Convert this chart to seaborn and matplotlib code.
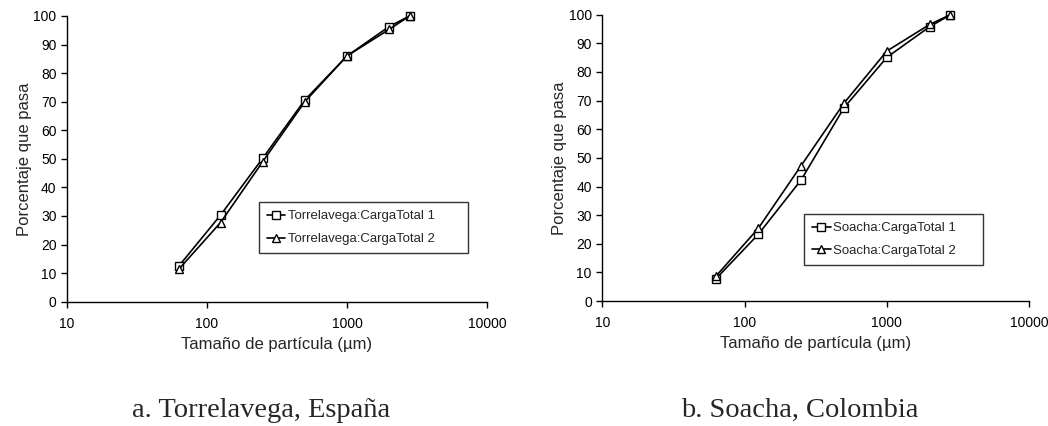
import matplotlib
matplotlib.use("Agg")
from matplotlib import pyplot as plt
from matplotlib.lines import Line2D
import seaborn as sns
import pandas as pd

# Particle size (um)
sizes = [63, 125, 250, 500, 1000, 2000, 2800]

# Torrelavega, Espana
torre_total1 = [12.5, 30.3, 50.2, 70.6, 86.0, 96.3, 100.0]
torre_total2 = [11.4, 27.7, 49.0, 70.0, 86.0, 95.3, 100.0]

# Soacha, Colombia
soacha_total1 = [7.8, 23.3, 42.3, 67.5, 85.1, 95.8, 100.0]
soacha_total2 = [8.7, 25.4, 47.3, 69.1, 87.3, 96.6, 100.0]

panels = [
    ("Torrelavega", torre_total1, torre_total2, "a. Torrelavega, España",
     [0.0639, 0.2918, 0.4008, 0.6707], (0.457, 0.17, 0.498, 0.18)),
    ("Soacha", soacha_total1, soacha_total2, "b. Soacha, Colombia",
     [0.5747, 0.2934, 0.4072, 0.6720], (0.473, 0.126, 0.42, 0.18)),
]

sns.set_style("ticks")
plt.rcParams['font.family'] = ['Liberation Sans', 'DejaVu Sans']

fig = plt.figure(figsize=(10.48, 4.26), dpi=100)

for site, s1, s2, caption, pos, leg_box in panels:
    lab1 = f"{site}:CargaTotal 1"
    lab2 = f"{site}:CargaTotal 2"
    df = pd.DataFrame({
        'size': sizes + sizes,
        'pasa': s1 + s2,
        'serie': [lab1] * len(sizes) + [lab2] * len(sizes),
    })

    ax = fig.add_axes(pos)
    sns.lineplot(data=df, x='size', y='pasa', hue='serie', style='serie',
                 markers=['s', '^'], dashes=False, palette=['black', 'black'],
                 errorbar=None, linewidth=1.2, markersize=5.5,
                 markerfacecolor='white', markeredgecolor='black',
                 markeredgewidth=1.0, legend=False, clip_on=False, ax=ax)

    ax.set_xscale('log')
    ax.set_xlim(10, 10000)
    ax.set_ylim(0, 100)
    ax.set_xticks([10, 100, 1000, 10000])
    ax.set_xticklabels(['10', '100', '1000', '10000'])
    ax.xaxis.set_minor_locator(matplotlib.ticker.NullLocator())
    ax.set_yticks(range(0, 101, 10))
    ax.tick_params(axis='both', labelsize=10, length=4, width=1,
                   colors='black', direction='out')
    ax.tick_params(axis='x', pad=7)
    for sp in ['left', 'bottom']:
        ax.spines[sp].set_color('black')
        ax.spines[sp].set_linewidth(1.0)
    sns.despine(ax=ax)

    ax.set_xlabel('Tamaño de partícula (µm)', fontsize=12, labelpad=4)
    ax.set_ylabel('Porcentaje que pasa', fontsize=12, labelpad=1)

    handles = [
        Line2D([], [], color='black', lw=1.2, marker='s', ms=5.5,
               mfc='white', mec='black', mew=1.0),
        Line2D([], [], color='black', lw=1.2, marker='^', ms=5.5,
               mfc='white', mec='black', mew=1.0),
    ]
    leg = ax.legend(handles, [lab1, lab2], loc='lower left',
                    bbox_to_anchor=leg_box, mode='expand', fontsize=9.5,
                    frameon=True, fancybox=False, edgecolor='black',
                    handlelength=1.4, handletextpad=0.2, labelspacing=0.8,
                    borderaxespad=0, borderpad=0.6)
    leg.get_frame().set_linewidth(1.0)

    fig.text(pos[0] + pos[2] / 2 - 0.015, 0.036, caption, ha='center',
             va='center', fontsize=20.5, family=['Liberation Serif', 'DejaVu Serif'])

plt.savefig('out.png', dpi=100)
